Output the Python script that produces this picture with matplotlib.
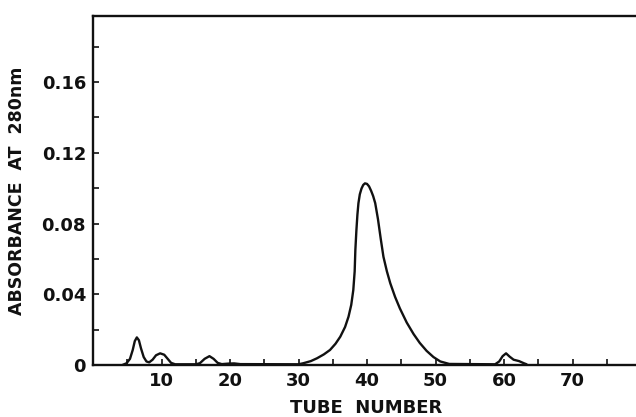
import matplotlib
matplotlib.use("Agg")
import matplotlib.pyplot as plt
from matplotlib.ticker import MultipleLocator

# absorbance trace (tube number, A280)
tube = [4.3, 4.9, 5.4, 5.8, 6.1, 6.4, 6.7, 7.0, 7.4, 7.8, 8.2, 8.7, 9.2, 9.8,
        10.4, 10.9, 11.4, 12.0, 15.0, 15.6, 16.3, 17.0, 17.6, 18.2, 18.8,
        19.8, 20.6, 21.5, 30.0, 30.7, 31.8, 32.7, 33.7, 34.6, 35.4, 36.1,
        36.8, 37.3, 37.7, 38.0, 38.2, 38.3, 38.45, 38.6, 38.75, 38.95, 39.2,
        39.45, 39.7, 40.0, 40.3, 40.6, 40.9, 41.2, 41.6, 42.0, 42.4, 42.9,
        43.4, 44.1, 44.8, 45.8, 46.8, 47.7, 48.7, 49.7, 50.7, 52.0, 58.7,
        59.3, 59.8, 60.3, 60.8, 61.4, 62.2, 62.9, 63.3]
absorb = [0.0000, 0.0010, 0.0035, 0.0085, 0.0135, 0.0156, 0.0140, 0.0095,
          0.0045, 0.0020, 0.0015, 0.0030, 0.0055, 0.0066, 0.0058, 0.0035,
          0.0012, 0.0004, 0.0004, 0.0010, 0.0035, 0.0050, 0.0035, 0.0012,
          0.0005, 0.0008, 0.0009, 0.0005, 0.0004, 0.0010, 0.0022, 0.0038,
          0.0060, 0.0085, 0.0120, 0.0160, 0.0215, 0.0273, 0.0340, 0.0424,
          0.0530, 0.0650, 0.0760, 0.0850, 0.0915, 0.0965, 0.0998, 0.1018,
          0.1027, 0.1024, 0.1010, 0.0985, 0.0955, 0.0915, 0.0825, 0.0715,
          0.0612, 0.0530, 0.0462, 0.0385, 0.0320, 0.0240, 0.0175, 0.0125,
          0.0080, 0.0045, 0.0020, 0.0006, 0.0004, 0.0020, 0.0050, 0.0066,
          0.0048, 0.0030, 0.0022, 0.0010, 0.0004]

xticks = [10, 20, 30, 40, 50, 60, 70]
yticks = [0, 0.04, 0.08, 0.12, 0.16]
ylabels = ["0", "0.04", "0.08", "0.12", "0.16"]

plt.rcParams['font.family'] = ['DejaVu Sans']
plt.rcParams['font.weight'] = 'bold'

fig = plt.figure(figsize=(6.36, 4.17), dpi=100)
ax = fig.add_axes([93/636, 52/417, 548/636, 349.3/417])

ax.plot(tube, absorb, color='#111111', lw=1.7, solid_capstyle='round',
        solid_joinstyle='round')

ax.set_xlim(0, 80)
ax.set_ylim(0, 0.1975)

ax.set_xticks(xticks)
ax.xaxis.set_minor_locator(MultipleLocator(5))
ax.set_yticks(yticks)
ax.set_yticklabels(ylabels)
ax.yaxis.set_minor_locator(MultipleLocator(0.02))

ax.tick_params(which='both', direction='in', length=4, width=1.2,
               color='#111111', top=False, right=False)
ax.tick_params(axis='both', which='major', labelsize=13, pad=5,
               labelcolor='#111111')

for s in ['left', 'bottom', 'top']:
    ax.spines[s].set_linewidth(1.7)
    ax.spines[s].set_color('#111111')
ax.spines['right'].set_visible(False)

ax.set_xlabel("TUBE  NUMBER", fontsize=13, fontweight='bold', color='#111111')
ax.xaxis.set_label_coords((366 - 93) / 548, (365 - 399) / 349.3)
ax.set_ylabel("ABSORBANCE  AT  280nm", fontsize=12.5, fontweight='bold',
              color='#111111')
ax.yaxis.set_label_coords((26 - 93) / 548, (365 - 191) / 349.3)

fig.savefig("out.png", dpi=100)
